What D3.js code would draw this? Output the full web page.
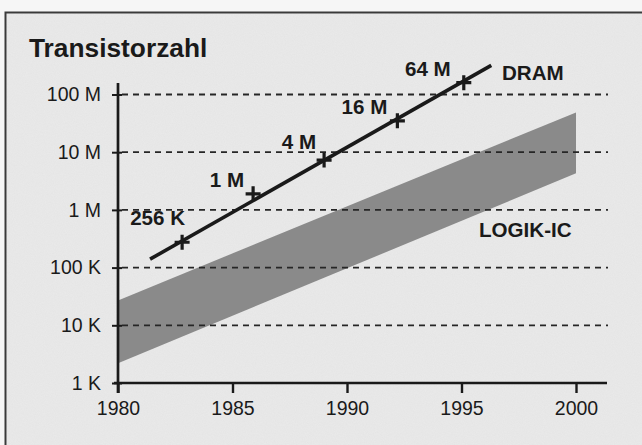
<!DOCTYPE html>
<html>
<head>
<meta charset="utf-8">
<script src="https://cdn.jsdelivr.net/npm/d3@7"></script>
<style>
    body { margin: 0; background: #f6f6f6; }
    text { font-family: "Liberation Sans", Arial, Helvetica, sans-serif; fill: #1a1a1a; }
    .tick-label { font-size: 19.5px; }
    .chip-label { font-size: 20.6px; font-weight: bold; }
    .title { font-size: 26.3px; font-weight: bold; }
    .grid { stroke: #262626; stroke-width: 1.8; stroke-dasharray: 6 5; }
</style>
</head>
<body>
<div id="chart"></div>
<script>
// Daten
const xTicks = [1980, 1985, 1990, 1995, 2000]
const yTicks = [1e3, 1e4, 1e5, 1e6, 1e7, 1e8]
const yTickLabels = ["1 K", "10 K", "100 K", "1 M", "10 M", "100 M"]

// DRAM-Gerade (Anfang und Ende)
const dramYears = [1981.4, 1996.3]
const dramValues = [1.4e5, 3.2e8]

// DRAM-Generationen
const chipNames = ["256 K", "1 M", "4 M", "16 M", "64 M"]
const chipYears = [1982.8, 1985.9, 1989.0, 1992.2, 1995.1]
const chipValues = [2.75e5, 1.9e6, 7.3e6, 3.5e7, 1.6e8]

// Logik-IC Band
const logicYears = [1980, 2000]
const logicUpper = [2.7e4, 4.9e7]
const logicLower = [2.2e3, 4.3e6]

const width = 642
const height = 445

const svg = d3.select("#chart")
    .append("svg")
    .attr("width", width)
    .attr("height", height)

// leichte Papierstruktur wie im Scan
const filter = svg.append("defs").append("filter").attr("id", "paper")
filter.append("feTurbulence")
    .attr("type", "fractalNoise").attr("baseFrequency", 0.9).attr("numOctaves", 2).attr("seed", 3)
filter.append("feColorMatrix")
    .attr("type", "matrix")
    .attr("values", "0 0 0 0 0.5  0 0 0 0 0.5  0 0 0 0 0.5  0 0 0 0.12 0")
filter.append("feComposite").attr("in2", "SourceGraphic").attr("operator", "in")

// Rahmen + Hintergrund
svg.append("rect")
    .attr("x", 5.5).attr("y", 12.5)
    .attr("width", width).attr("height", height)
    .attr("fill", "#eaeaea")
    .attr("stroke", "#3a3a3a")
    .attr("stroke-width", 2)
svg.append("rect")
    .attr("x", 6.5).attr("y", 13.5)
    .attr("width", width).attr("height", height)
    .attr("fill", "#eaeaea")
    .attr("filter", "url(#paper)")

const x = d3.scaleLinear().domain([1980, 2000]).range([118, 576])
const y = d3.scaleLog().domain([1e3, 1e8]).range([383, 94.5])

// Band
const band = logicYears.map((yr, i) => ({ year: yr, hi: logicUpper[i], lo: logicLower[i] }))
svg.append("path")
    .datum(band)
    .attr("fill", "#8a8a8a")
    .attr("d", d3.area()
        .x(d => x(d.year))
        .y0(d => y(d.lo))
        .y1(d => y(d.hi)))

// Gitterlinien
svg.selectAll(".grid")
    .data(yTicks.slice(1))
    .join("line")
    .attr("class", "grid")
    .attr("x1", x(1980) + 4)
    .attr("x2", 608)
    .attr("y1", d => y(d))
    .attr("y2", d => y(d))

// Achsen
const yAxis = d3.axisLeft(y)
    .tickValues(yTicks)
    .tickFormat((d, i) => yTickLabels[i])
    .tickSize(6)
    .tickPadding(11)
const xAxis = d3.axisBottom(x)
    .tickValues(xTicks)
    .tickFormat(d3.format("d"))
    .tickSize(10)
    .tickPadding(8)

const yAxisGroup = svg.append("g")
    .attr("transform", `translate(${x(1980)},0)`)
    .call(yAxis)
yAxisGroup.select(".domain").remove()
yAxisGroup.append("line")
    .attr("x1", 0).attr("x2", 0)
    .attr("y1", 83).attr("y2", y(1e3) + 10)
    .attr("stroke", "#1a1a1a").attr("stroke-width", 2.7)
yAxisGroup.selectAll(".tick line")
    .attr("x1", 4)
    .attr("stroke", "#1a1a1a").attr("stroke-width", 2)

const xAxisGroup = svg.append("g")
    .attr("transform", `translate(0,${y(1e3)})`)
    .call(xAxis)
xAxisGroup.select(".domain").remove()
xAxisGroup.append("line")
    .attr("x1", x(1980) - 4).attr("x2", 607)
    .attr("stroke", "#1a1a1a").attr("stroke-width", 2.7)
xAxisGroup.selectAll(".tick line").attr("stroke", "#1a1a1a").attr("stroke-width", 2.4)

svg.selectAll(".tick text")
    .attr("class", "tick-label")
    .attr("font-size", null)
    .attr("font-family", null)
    .attr("fill", "#1a1a1a")

// DRAM-Linie
svg.append("path")
    .datum(dramYears.map((yr, i) => ({ year: yr, value: dramValues[i] })))
    .attr("fill", "none")
    .attr("stroke", "#1a1a1a")
    .attr("stroke-width", 3.6)
    .attr("d", d3.line().x(d => x(d.year)).y(d => y(d.value)))

// Kreuze
const chips = chipNames.map((n, i) => ({ name: n, year: chipYears[i], value: chipValues[i] }))
const cross = 7.5
const marks = svg.selectAll(".chip")
    .data(chips)
    .join("g")
    .attr("class", "chip")
    .attr("transform", d => `translate(${x(d.year)},${y(d.value)})`)
marks.append("path")
    .attr("d", `M${-cross},0H${cross}M0,${-cross}V${cross}`)
    .attr("stroke", "#1a1a1a")
    .attr("stroke-width", 3.2)

// Beschriftung der Generationen (Versatz zum Kreuz)
const labelDx = [3, -9, -8, -10, -13]
const labelDy = [-17, -7, -11, -7, -7]
marks.append("text")
    .attr("class", "chip-label")
    .attr("text-anchor", "end")
    .attr("x", (d, i) => labelDx[i])
    .attr("y", (d, i) => labelDy[i])
    .text(d => d.name)

// Titel und Serienbeschriftungen
svg.append("text").attr("class", "title").attr("x", 29).attr("y", 57).text("Transistorzahl")
svg.append("text").attr("class", "chip-label").attr("x", 502).attr("y", 80).text("DRAM")
svg.append("text").attr("class", "chip-label").attr("x", 479).attr("y", 237).text("LOGIK-IC")
</script>
</body>
</html>
